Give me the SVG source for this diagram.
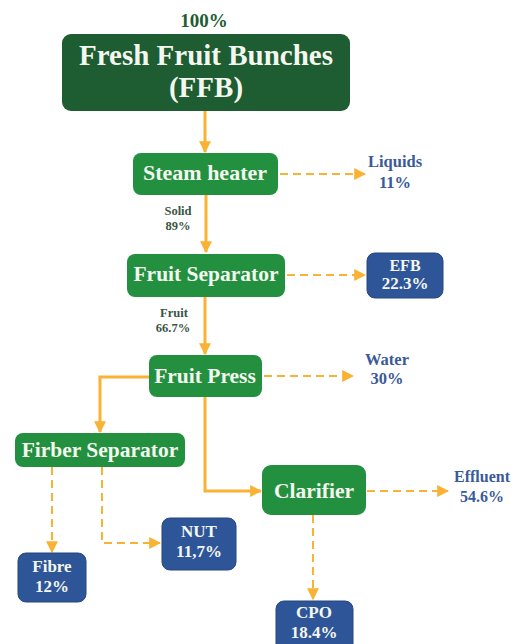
<svg xmlns="http://www.w3.org/2000/svg" width="519" height="644" viewBox="0 0 519 644">
<defs>
<marker id="ah" viewBox="0 0 10 10" refX="9" refY="5" markerWidth="12" markerHeight="12" markerUnits="userSpaceOnUse" orient="auto">
<path d="M0,0 L10,5 L0,10 Z" fill="#f9b233"/>
</marker>
<style>
.t{font-family:"Liberation Serif","Times New Roman",serif;font-weight:bold;text-anchor:middle}
.w{fill:#f4f7f0}
.lb{fill:#3a5a98}
.lg{fill:#3b5444}
.dg{fill:#1e5c31}
.g{fill:#23903f}
.b{fill:#2e5597;stroke:#26477f;stroke-width:1}
.c{fill:none;stroke:#f9b233;stroke-width:3}
.d{fill:none;stroke:#f9b233;stroke-width:2;stroke-dasharray:8 5}
</style>
</defs>
<rect width="519" height="644" fill="#ffffff"/>
<g id="connectors">
<path class="c" d="M205,111 V152" marker-end="url(#ah)"/>
<path class="d" d="M280,174 H365" marker-end="url(#ah)"/>
<path class="c" d="M206,195 V252" marker-end="url(#ah)"/>
<path class="d" d="M287,275 H365" marker-end="url(#ah)"/>
<path class="c" d="M205,297 V354" marker-end="url(#ah)"/>
<path class="d" d="M264,376 H353" marker-end="url(#ah)"/>
<path class="c" d="M149,377 H100 V432" marker-end="url(#ah)"/>
<path class="c" d="M205,397 V491 H261" marker-end="url(#ah)"/>
<path class="d" d="M367,491 H448" marker-end="url(#ah)"/>
<path class="d" d="M52,467 V552" marker-end="url(#ah)"/>
<path class="d" d="M102,467 V543 H160" marker-end="url(#ah)"/>
<path class="d" d="M313,515 V599" marker-end="url(#ah)"/>
</g>
<g id="ffb">
<text class="t dg" x="204" y="27" font-size="19">100%</text>
<rect class="dg" x="62" y="34" width="288" height="77" rx="9"/>
<text class="t w" x="206" y="65" font-size="29">Fresh Fruit Bunches</text>
<text class="t w" x="206" y="97" font-size="29">(FFB)</text>
</g>
<g id="steam-heater">
<rect class="g" x="133" y="153" width="145" height="42" rx="8"/>
<text class="t w" x="205" y="180" font-size="22">Steam heater</text>
</g>
<g id="liquids">
<text class="t lb" x="395" y="167" font-size="16.5">Liquids</text>
<text class="t lb" x="395" y="188" font-size="16.5">11%</text>
</g>
<g id="solid">
<text class="t lg" x="178" y="215" font-size="12.5">Solid</text>
<text class="t lg" x="178" y="230" font-size="12.5">89%</text>
</g>
<g id="fruit-separator">
<rect class="g" x="127" y="254" width="158" height="43" rx="8"/>
<text class="t w" x="206" y="281" font-size="21.5">Fruit Separator</text>
</g>
<g id="efb">
<rect class="b" x="367" y="253" width="76" height="45" rx="8"/>
<text class="t w" x="405" y="271" font-size="16">EFB</text>
<text class="t w" x="405" y="289" font-size="17">22.3%</text>
</g>
<g id="fruit">
<text class="t lg" x="174" y="317" font-size="12.5">Fruit</text>
<text class="t lg" x="173" y="332" font-size="12.5">66.7%</text>
</g>
<g id="fruit-press">
<rect class="g" x="149" y="355" width="113" height="42" rx="8"/>
<text class="t w" x="205" y="383" font-size="21.5">Fruit Press</text>
</g>
<g id="water">
<text class="t lb" x="387" y="365" font-size="16.5">Water</text>
<text class="t lb" x="387" y="384" font-size="16.5">30%</text>
</g>
<g id="fiber-separator">
<rect class="g" x="15" y="433" width="170" height="34" rx="8"/>
<text class="t w" x="100" y="457" font-size="21.5">Firber Separator</text>
</g>
<g id="clarifier">
<rect class="g" x="262" y="465" width="104" height="50" rx="9"/>
<text class="t w" x="314" y="498" font-size="21.5">Clarifier</text>
</g>
<g id="effluent">
<text class="t lb" x="482" y="482" font-size="16">Effluent</text>
<text class="t lb" x="482" y="502" font-size="16">54.6%</text>
</g>
<g id="fibre">
<rect class="b" x="18" y="553" width="68" height="49" rx="8"/>
<text class="t w" x="52" y="572" font-size="17">Fibre</text>
<text class="t w" x="52" y="592" font-size="17">12%</text>
</g>
<g id="nut">
<rect class="b" x="162" y="518" width="74" height="52" rx="8"/>
<text class="t w" x="199" y="537" font-size="17">NUT</text>
<text class="t w" x="199" y="557" font-size="17">11,7%</text>
</g>
<g id="cpo">
<rect class="b" x="276" y="601" width="77" height="52" rx="8"/>
<text class="t w" x="314" y="618" font-size="17">CPO</text>
<text class="t w" x="314" y="638" font-size="17">18.4%</text>
</g>
</svg>
